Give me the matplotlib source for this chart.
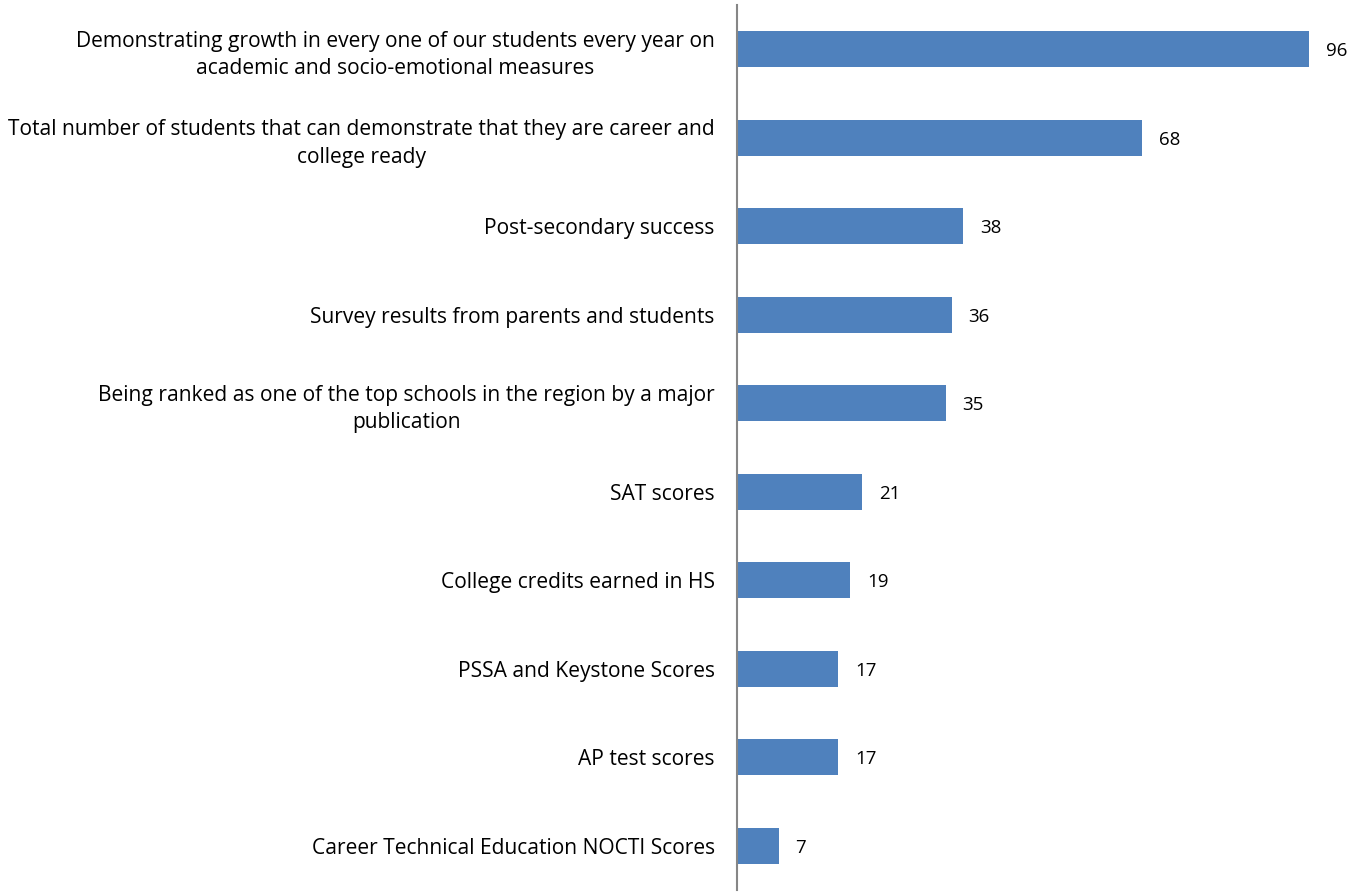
import matplotlib
matplotlib.use("Agg")
import matplotlib.pyplot as plt

categories = [
    "Demonstrating growth in every one of our students every year on\nacademic and socio-emotional measures",
    "Total number of students that can demonstrate that they are career and\ncollege ready",
    "Post-secondary success",
    "Survey results from parents and students",
    "Being ranked as one of the top schools in the region by a major\npublication",
    "SAT scores",
    "College credits earned in HS",
    "PSSA and Keystone Scores",
    "AP test scores",
    "Career Technical Education NOCTI Scores",
]
values = [96, 68, 38, 36, 35, 21, 19, 17, 17, 7]

plt.rcParams['font.family'] = ['Open Sans', 'DejaVu Sans']

W, H = 1352, 892
fig = plt.figure(figsize=(W / 100, H / 100), dpi=100)
ax = fig.add_axes([737 / W, 1 - 890 / H, (1333 - 737) / W, (890 - 5) / H])

y = list(range(len(categories)))
ax.barh(y, values, height=0.41, color="#4F81BD")
ax.set_xlim(0, 100)
ax.set_ylim(len(categories) - 0.5, -0.5)

for yi, v in zip(y, values):
    ax.annotate(str(v), (v, yi), xytext=(12, 0), textcoords="offset points",
                ha="left", va="center_baseline", fontsize=13.5, color="black")

ax.set_yticks(y)
ax.set_yticklabels(categories, fontsize=15.1, multialignment="center",
                   color="black", linespacing=1.4)
ax.tick_params(axis="y", length=0, pad=16)
ax.set_xticks([])
for s in ["top", "right", "bottom"]:
    ax.spines[s].set_visible(False)
ax.spines["left"].set_color("#868686")
ax.spines["left"].set_linewidth(1.5)

fig.savefig("out.png", dpi=100)
